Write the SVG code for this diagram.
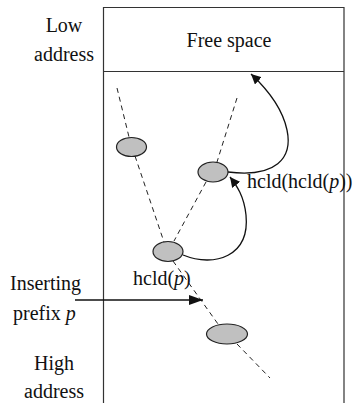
<svg xmlns="http://www.w3.org/2000/svg" width="354" height="403" viewBox="0 0 354 403">
<style>
text{font-size:20px;fill:#111}
.node{fill:#c0c0c0;stroke:#222;stroke-width:1.2}
.dash{fill:none;stroke:#222;stroke-width:1;stroke-dasharray:5,4}
.arc{fill:none;stroke:#111;stroke-width:1.3}
.frame{fill:none;stroke:#333;stroke-width:1.2}
</style>
<defs>
<marker id="ah" viewBox="0 0 10 10" refX="10" refY="5" markerWidth="10" markerHeight="10" markerUnits="userSpaceOnUse" orient="auto">
<path d="M0,0 L10,5 L0,10 Z" fill="#111"/>
</marker>
<marker id="ahbig" viewBox="0 0 14 10" refX="14" refY="5" markerWidth="14" markerHeight="10" markerUnits="userSpaceOnUse" orient="auto">
<path d="M0,0 L14,5 L0,10 Z" fill="#111"/>
</marker>
</defs>
<rect width="354" height="403" fill="#fff"/>
<g id="memory">
<path class="frame" d="M103.5,410 V7.5 H344 V410"/>
<line class="frame" x1="103.5" y1="71.5" x2="344" y2="71.5"/>
</g>
<g id="labels" font-family="Liberation Serif, DejaVu Serif, serif">
<text x="64" y="32" text-anchor="middle">Low</text>
<text x="64" y="61" text-anchor="middle">address</text>
<text x="229" y="47" text-anchor="middle">Free space</text>
<text x="54" y="370" text-anchor="middle">High</text>
<text x="54" y="398" text-anchor="middle">address</text>
<text x="10" y="290">Inserting</text>
<text x="13" y="320">prefix <tspan font-style="italic">p</tspan></text>
</g>
<g id="connectors">
<line class="dash" x1="117" y1="88" x2="129" y2="137"/>
<line class="dash" x1="135" y1="156" x2="164" y2="242"/>
<line class="dash" x1="237" y1="98" x2="217" y2="162"/>
<line class="dash" x1="206" y1="182" x2="174" y2="241"/>
<line class="dash" x1="173" y1="261" x2="218" y2="324"/>
<line class="dash" x1="237" y1="344" x2="270" y2="378"/>
<path class="arc" d="M183,255 C215,268 250,256 246,215 C244,196 237,186 230,177" marker-end="url(#ah)"/>
<path class="arc" d="M228,172 C276,178 293,158 287,130 C282,106 266,88 251,74" marker-end="url(#ah)"/>
<line x1="75" y1="300" x2="203" y2="300" stroke="#111" stroke-width="1.6" marker-end="url(#ahbig)"/>
</g>
<g id="n1"><ellipse class="node" cx="131.5" cy="147" rx="15" ry="9.5"/></g>
<g id="n2"><ellipse class="node" cx="213" cy="172" rx="15" ry="10"/></g>
<g id="n3"><ellipse class="node" cx="168" cy="251.5" rx="15" ry="10"/></g>
<g id="n4"><ellipse class="node" cx="227" cy="334" rx="20.5" ry="10"/></g>
<g id="node-labels" font-family="Liberation Serif, DejaVu Serif, serif">
<text x="133" y="285">hcld(<tspan font-style="italic">p</tspan>)</text>
<text x="247" y="188">hcld(hcld(<tspan font-style="italic">p</tspan>))</text>
</g>
</svg>
